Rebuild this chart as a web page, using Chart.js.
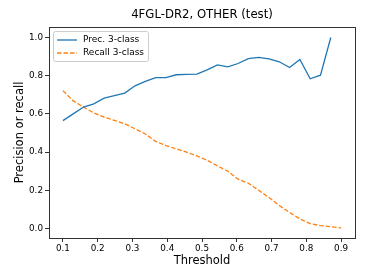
<!DOCTYPE html>
<html>
<head>
<meta charset="utf-8">
<script src="https://cdn.jsdelivr.net/npm/chart.js@4.4.1/dist/chart.umd.min.js"></script>
<style>
  body { margin: 0; background: #fff; }
  canvas { display: block; }
</style>
</head>
<body>
<canvas id="chart" width="374" height="280"></canvas>
<script>
// thresholds (x values)
const thresholds = [0.1, 0.1296, 0.1593, 0.1889, 0.2185, 0.2481, 0.2778, 0.3074, 0.337, 0.3667,
  0.3963, 0.4259, 0.4556, 0.4852, 0.5148, 0.5444, 0.5741, 0.6037, 0.6333, 0.663,
  0.6926, 0.7222, 0.7519, 0.7815, 0.8111, 0.8407, 0.8704, 0.9];

const precision = [0.565, 0.600, 0.636, 0.653, 0.683, 0.696, 0.709, 0.747, 0.770, 0.790,
  0.790, 0.805, 0.807, 0.808, 0.831, 0.857, 0.846, 0.864, 0.890, 0.896,
  0.888, 0.873, 0.843, 0.885, 0.784, 0.803, 1.0, null];

const recall = [0.722, 0.668, 0.636, 0.605, 0.583, 0.566, 0.548, 0.522, 0.495, 0.456,
  0.434, 0.417, 0.400, 0.380, 0.357, 0.328, 0.300, 0.258, 0.237, 0.200,
  0.162, 0.120, 0.084, 0.050, 0.025, 0.015, 0.009, 0.003];

const xTicks = [0.1, 0.2, 0.3, 0.4, 0.5, 0.6, 0.7, 0.8, 0.9];
const yTicks = [0.0, 0.2, 0.4, 0.6, 0.8, 1.0];

const seriesNames = ['Prec. 3-class', 'Recall 3-class'];
const BLUE = '#1f77b4';
const ORANGE = '#ff7f0e';
const FONT = 'DejaVu Sans';

function toPoints(values) {
  return thresholds.map((t, i) => ({ x: t, y: values[i] }));
}

// full box around the plot + legend inside top left
const framePlugin = {
  id: 'frame',
  afterDraw(chart) {
    const { ctx, chartArea } = chart;
    ctx.save();
    ctx.strokeStyle = '#333';
    ctx.lineWidth = 1;
    ctx.strokeRect(Math.round(chartArea.left) + 0.5, Math.round(chartArea.top) + 0.5,
      Math.round(chartArea.right - chartArea.left), Math.round(chartArea.bottom - chartArea.top));

    // legend box
    const bx = 53, by = 31, bw = 95, bh = 30;
    ctx.beginPath();
    ctx.roundRect(bx + 0.5, by + 0.5, bw, bh, 2);
    ctx.fillStyle = 'rgba(255,255,255,0.8)';
    ctx.fill();
    ctx.strokeStyle = '#ccc';
    ctx.stroke();

    const rows = [
      { color: BLUE, dash: [], y: 40 },
      { color: ORANGE, dash: [4.5, 2], y: 53 }
    ];
    ctx.font = '9px "' + FONT + '"';
    ctx.textBaseline = 'middle';
    ctx.textAlign = 'left';
    rows.forEach((row, i) => {
      ctx.beginPath();
      ctx.setLineDash(row.dash);
      ctx.strokeStyle = row.color;
      ctx.lineWidth = 1.3;
      ctx.moveTo(57, row.y);
      ctx.lineTo(77, row.y);
      ctx.stroke();
      ctx.setLineDash([]);
      ctx.fillStyle = '#000';
      ctx.fillText(seriesNames[i], 83, row.y);
    });
    ctx.restore();
  }
};

new Chart(document.getElementById('chart'), {
  type: 'line',
  data: {
    datasets: [
      {
        label: seriesNames[0],
        data: toPoints(precision),
        borderColor: BLUE,
        borderWidth: 1.3,
        pointRadius: 0,
        tension: 0,
        spanGaps: false
      },
      {
        label: seriesNames[1],
        data: toPoints(recall),
        borderColor: ORANGE,
        borderWidth: 1.3,
        borderDash: [4.5, 2],
        pointRadius: 0,
        tension: 0
      }
    ]
  },
  options: {
    responsive: false,
    devicePixelRatio: 1,
    animation: false,
    layout: { padding: { left: 0, right: 19, top: 0, bottom: 0 } },
    plugins: {
      legend: { display: false },
      tooltip: { enabled: false },
      title: {
        display: true,
        fullSize: false,
        text: '4FGL-DR2, OTHER (test)',
        color: '#000',
        font: { family: FONT, size: 11.7, weight: 'normal' },
        padding: { top: 8, bottom: 5 }
      }
    },
    scales: {
      x: {
        type: 'linear',
        min: 0.06,
        max: 0.94,
        afterFit(scale) { scale.height = 42; },
        afterBuildTicks(scale) { scale.ticks = xTicks.map(v => ({ value: v })); },
        grid: { display: true, drawOnChartArea: false, drawTicks: true, tickLength: 4, color: '#333' },
        border: { display: true, color: '#333' },
        ticks: {
          color: '#000',
          padding: 1,
          maxRotation: 0,
          font: { family: FONT, size: 8.8 },
          callback: v => v.toFixed(1)
        },
        title: {
          display: true,
          text: 'Threshold',
          color: '#000',
          font: { family: FONT, size: 11.5 },
          padding: { top: 0, bottom: 12 }
        }
      },
      y: {
        type: 'linear',
        min: -0.05,
        max: 1.055,
        afterFit(scale) { scale.width = 49; },
        afterBuildTicks(scale) { scale.ticks = yTicks.map(v => ({ value: v })); },
        grid: { display: true, drawOnChartArea: false, drawTicks: true, tickLength: 4, color: '#333' },
        border: { display: true, color: '#333' },
        ticks: {
          color: '#000',
          padding: 2,
          font: { family: FONT, size: 8.8 },
          callback: v => v.toFixed(1)
        },
        title: {
          display: true,
          text: 'Precision or recall',
          color: '#000',
          font: { family: FONT, size: 11.5 },
          padding: { top: 13, bottom: 0 }
        }
      }
    }
  },
  plugins: [framePlugin]
});
</script>
</body>
</html>
